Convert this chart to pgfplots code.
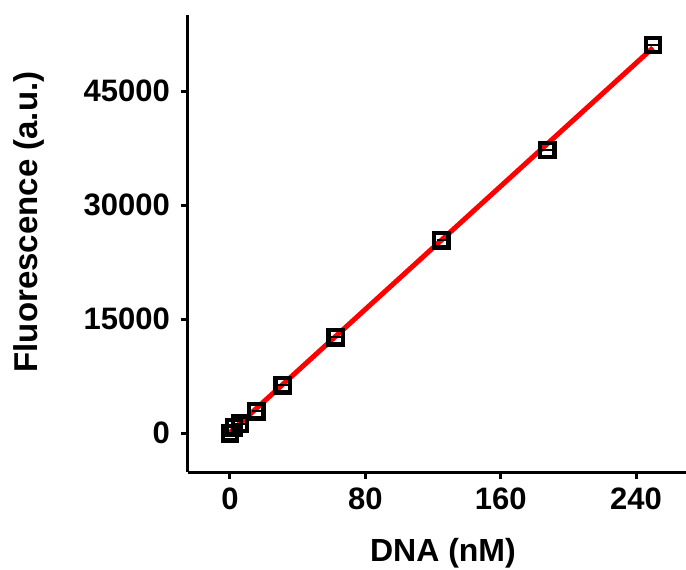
\documentclass[border=0pt]{standalone}
\usepackage{fontspec}
\setmainfont{Liberation Sans}
\usepackage{pgfplots}
\pgfplotsset{compat=1.18}
\usetikzlibrary{calc}
\begin{document}
\begin{tikzpicture}
\begin{axis}[
  name=ax,
  scale only axis,
  width=249pt, height=228.5pt,
  xmin=-24.8, xmax=269.5,
  ymin=-5100, ymax=55000,
  axis x line*=bottom, axis y line*=left,
  axis line style={line width=1.5pt, -},
  xtick={0,80,160,240},
  ytick={0,15000,30000,45000},
  tick align=outside,
  major tick length=3.5pt,
  tick style={line width=1.5pt, black},
  scaled y ticks=false,
  /pgf/number format/.cd, set thousands separator={}, assume math mode=true,
  /pgfplots/.cd,
  ticklabel style={font=\fontsize{15.5}{18}\selectfont\bfseries},
  xticklabel style={yshift=-1pt},
  yticklabel style={xshift=-2pt},
  xlabel={DNA (nM)},
  ylabel={Fluorescence (a.u.)},
  xlabel style={font=\fontsize{16}{19}\selectfont\bfseries, at={(axis description cs:0.512,0)}, anchor=center, yshift=-40.5pt},
  ylabel style={font=\fontsize{16.5}{19}\selectfont\bfseries, at={(axis description cs:0,0.547)}, anchor=center, yshift=79.5pt},
  clip=false,
]
\addplot[only marks, mark=square, mark size=3.6pt, line width=2.2pt, black] coordinates {
  (0,0) (2.4,800) (5.9,1250) (15.6,2895) (31.25,6316) (62.5,12632) (125,25395) (187.5,37237) (250,51053)
};
\addplot[only marks, mark=-, mark size=2.4pt, line width=1.2pt, black] coordinates {
  (0,0) (2.4,800) (5.9,1250) (15.6,2895) (31.25,6316) (62.5,12632) (125,25395) (187.5,37237) (250,51053)
};
\addplot[red, line width=2.5pt] coordinates {(0,100) (250,50700)};
\end{axis}
\pgfresetboundingbox
\path ($(ax.south west)+(-94pt,-48.5pt)$) rectangle ($(ax.north east)+(0pt,7.5pt)$);
\end{tikzpicture}
\end{document}
